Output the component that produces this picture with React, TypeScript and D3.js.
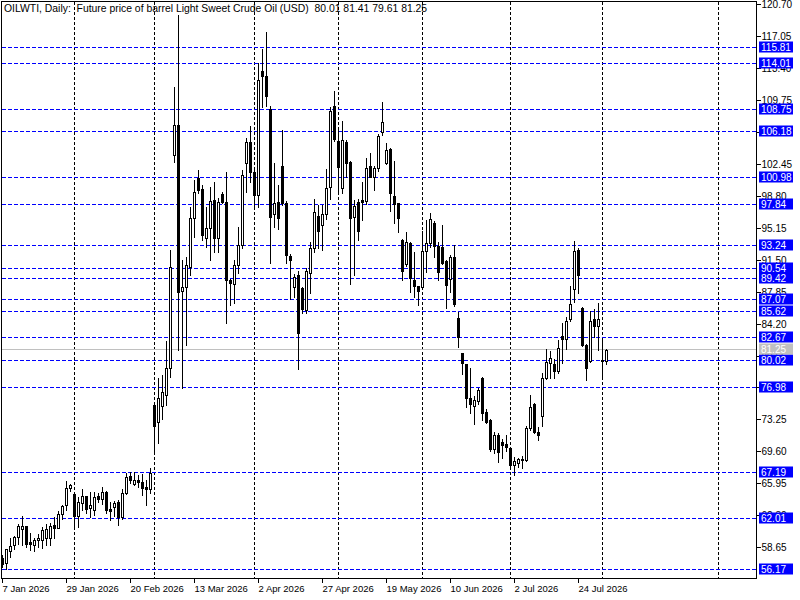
import { useEffect, useRef } from "react";
import * as d3 from "d3";

// daily OHLC, one entry per bar
const opens = [
  57.5, 56.9, 58.3, 58.9, 59.9, 60.8, 61.1, 59.3, 58.9, 59.5,
  59.5, 59.7, 59.7, 61.2, 60.9, 62.5, 63.5, 65.5, 64.8, 62.3,
  63.8, 64.5, 63.2, 62.9, 64.6, 64.2, 65.0, 63.1, 63.3, 63.9,
  62.1, 64.9, 66.8, 65.9, 66.4, 66.1, 65.6, 65.4, 74.9, 73.0,
  74.8, 76.1, 79.2, 103.5, 107.0, 88.0, 88.4, 90.7, 96.3, 100.9,
  99.6, 94.0, 95.2, 98.4, 94.0, 99.1, 98.2, 89.2, 88.8, 91.0,
  93.2, 102.6, 105.0, 101.6, 99.0, 113.1, 112.6, 108.8, 96.8, 98.2,
  102.3, 98.1, 92.0, 88.4, 89.8, 88.3, 85.8, 90.1, 92.9, 96.6,
  95.5, 96.8, 99.9, 109.1, 105.1, 99.8, 105.0, 102.7, 96.4, 98.2,
  98.4, 98.3, 102.3, 101.0, 102.0, 106.2, 102.6, 104.2, 98.9, 98.0,
  93.8, 91.1, 93.5, 89.2, 88.6, 88.5, 92.6, 93.5, 95.8, 93.1,
  93.0, 91.4, 89.4, 91.9, 84.9, 80.9, 79.7, 75.7, 74.8, 75.4,
  78.1, 74.1, 73.2, 69.9, 71.5, 70.7, 70.5, 70.0, 68.1, 68.3,
  68.8, 68.7, 72.3, 75.1, 71.9, 73.7, 78.0, 79.8, 79.6, 78.9,
  82.9, 82.5, 84.8, 88.2, 92.7, 86.1, 81.8, 80.0, 84.8, 84.0,
  80.1, 80.01,
];
const highs = [
  57.8, 58.5, 59.8, 60.0, 61.4, 62.3, 61.1, 60.3, 59.7, 60.2,
  61.0, 61.3, 61.5, 62.1, 62.8, 63.5, 66.3, 65.9, 64.8, 64.4,
  65.3, 64.6, 65.0, 65.0, 64.9, 65.6, 65.1, 63.9, 64.0, 64.1,
  65.4, 67.2, 67.3, 67.3, 66.9, 67.1, 66.4, 67.8, 75.1, 78.0,
  78.4, 82.3, 92.7, 111.3, 119.5, 91.5, 91.9, 97.6, 100.7, 101.8,
  100.1, 97.6, 99.9, 100.5, 98.6, 99.3, 101.6, 89.4, 91.5, 95.3,
  101.8, 105.5, 106.8, 101.8, 114.1, 115.7, 117.6, 109.1, 102.6, 100.1,
  106.4, 98.3, 92.2, 89.9, 90.3, 88.4, 90.6, 93.6, 98.5, 97.8,
  97.8, 101.9, 109.0, 110.9, 106.7, 107.4, 105.3, 102.8, 98.4, 98.5,
  100.4, 103.2, 103.8, 102.3, 105.9, 109.6, 104.9, 104.3, 102.8, 98.0,
  93.9, 94.7, 93.6, 92.5, 88.6, 94.9, 96.1, 96.9, 96.0, 93.6,
  95.5, 91.5, 92.1, 93.2, 85.6, 80.9, 79.7, 79.2, 76.0, 76.9,
  78.2, 74.5, 73.3, 71.9, 71.8, 71.1, 71.5, 70.1, 69.0, 68.9,
  69.1, 72.5, 76.1, 75.2, 72.4, 78.6, 81.4, 81.1, 80.2, 82.4,
  84.3, 85.0, 88.6, 93.7, 92.9, 86.2, 81.9, 85.7, 85.9, 86.6,
  82.4, 81.41,
];
const lows = [
  56.4, 56.17, 57.6, 58.5, 59.1, 59.0, 58.7, 58.4, 58.3, 58.7,
  58.6, 59.0, 58.9, 59.8, 60.9, 61.9, 63.0, 65.1, 61.1, 61.0,
  63.0, 62.6, 62.2, 62.4, 63.9, 63.6, 62.6, 61.8, 62.3, 61.2,
  61.9, 64.8, 66.0, 65.8, 65.6, 64.7, 63.5, 64.9, 69.3, 70.6,
  73.4, 75.0, 78.2, 102.7, 81.2, 76.9, 81.8, 89.8, 94.2, 99.2,
  93.8, 93.0, 91.5, 92.4, 92.4, 98.0, 84.3, 86.4, 86.6, 90.0,
  92.9, 99.3, 100.5, 97.6, 97.6, 109.0, 109.1, 91.2, 95.3, 95.1,
  97.8, 91.2, 87.1, 87.3, 79.1, 85.5, 85.5, 87.8, 92.4, 92.9,
  92.7, 96.2, 98.5, 105.1, 99.3, 99.2, 101.0, 88.8, 89.8, 93.8,
  96.1, 97.9, 101.0, 99.5, 101.7, 105.8, 102.5, 97.1, 95.8, 94.7,
  89.3, 90.9, 87.9, 87.3, 86.4, 88.4, 90.2, 93.0, 91.9, 89.3,
  91.1, 86.0, 87.9, 86.3, 81.6, 78.5, 74.7, 74.0, 72.8, 75.1,
  73.2, 72.9, 69.7, 69.5, 68.4, 68.9, 69.7, 67.7, 66.9, 67.9,
  67.8, 68.6, 72.1, 71.8, 70.9, 72.5, 77.9, 78.0, 78.0, 78.6,
  79.8, 81.4, 84.6, 86.7, 87.8, 81.7, 77.8, 79.9, 82.7, 81.3,
  78.1, 79.61,
];
const closes = [
  56.8, 58.5, 58.8, 59.9, 61.1, 61.1, 59.1, 59.1, 59.5, 59.7,
  60.7, 60.8, 61.1, 60.9, 62.5, 63.4, 65.5, 65.8, 62.3, 63.9,
  64.5, 63.1, 63.5, 64.4, 64.2, 65.0, 62.9, 62.8, 63.7, 62.2,
  64.9, 66.7, 66.4, 66.4, 66.1, 65.5, 65.4, 67.2, 72.5, 75.8,
  76.4, 79.2, 90.7, 107.0, 87.9, 88.4, 91.0, 96.3, 99.3, 99.5,
  94.4, 95.2, 98.3, 94.0, 98.2, 98.2, 89.2, 88.9, 91.0, 93.2,
  101.3, 105.0, 101.6, 99.0, 112.1, 112.6, 110.3, 96.5, 98.0, 96.3,
  98.1, 92.1, 91.5, 89.6, 83.2, 85.9, 90.3, 92.9, 97.0, 94.8,
  96.8, 99.8, 108.6, 105.4, 102.2, 105.3, 102.6, 96.3, 97.7, 94.8,
  98.2, 102.1, 101.0, 102.1, 105.7, 107.3, 104.1, 99.2, 97.9, 96.3,
  90.3, 93.6, 89.5, 88.6, 88.0, 92.6, 93.5, 96.2, 93.1, 90.2,
  91.2, 88.7, 91.9, 86.5, 82.7, 79.8, 75.8, 75.1, 75.5, 76.7,
  74.0, 73.0, 69.9, 71.5, 69.6, 70.4, 70.2, 68.1, 68.6, 68.8,
  68.7, 72.3, 74.7, 71.9, 71.5, 78.1, 79.9, 80.3, 78.9, 81.5,
  82.5, 84.6, 86.5, 92.6, 89.8, 81.8, 79.2, 84.6, 84.0, 84.8,
  80.0, 81.25,
];

// horizontal level lines (blue, labelled on the price axis)
const levels = [
  115.81, 114.01, 108.75, 106.18, 100.98, 97.84, 93.24, 90.54, 89.42,
  87.07, 85.62, 82.67, 80.02, 76.98, 67.19, 62.01, 56.17,
];
const priceTicks = [
  120.7, 117.05, 113.4, 109.75, 106.1, 102.45, 98.8, 95.15, 91.5, 87.85,
  84.2, 80.55, 76.9, 73.25, 69.6, 65.95, 62.3, 58.65,
];
const dateLabels = [
  "7 Jan 2026", "29 Jan 2026", "20 Feb 2026", "13 Mar 2026", "2 Apr 2026",
  "27 Apr 2026", "19 May 2026", "10 Jun 2026", "2 Jul 2026", "24 Jul 2026",
];
const dateLabelStep = 16; // a date label every 16 bars
const gridBars = [18, 38, 63, 84, 105, 127, 150, 179]; // vertical separators
const lastPrice = 81.25;
const title =
  "OILWTI, Daily:  Future price of barrel Light Sweet Crude Oil (USD)  80.01 81.41 79.61 81.25";

const WIDTH = 800;
const HEIGHT = 600;
const FONT = "'Liberation Sans', Arial, sans-serif";

export default function App() {
  const ref = useRef<SVGSVGElement | null>(null);

  useEffect(() => {
    document.body.style.margin = "0";
    if (!ref.current) return;
    const svg = d3.select(ref.current);
    svg.selectAll("*").remove();

    const plot = { left: 1.5, right: 756.5, top: 1.5, bottom: 578.5 };

    // 4px per bar
    const x = d3.scaleLinear().domain([0, 188]).range([2.5, 754.5]);
    const y = d3.scaleLinear().domain([56.17, 115.81]).range([569.3, 47.7]);
    const py = (v: number) => Math.floor(y(v)) + 0.5;

    svg.append("rect").attr("width", WIDTH).attr("height", HEIGHT).attr("fill", "#fff");

    // vertical grid
    svg
      .append("g")
      .attr("shape-rendering", "crispEdges")
      .selectAll("line")
      .data(gridBars)
      .join("line")
      .attr("x1", (d) => x(d))
      .attr("x2", (d) => x(d))
      .attr("y1", plot.top)
      .attr("y2", plot.bottom)
      .attr("stroke", "#000")
      .attr("stroke-dasharray", "3,2");

    // level lines
    svg
      .append("g")
      .attr("shape-rendering", "crispEdges")
      .selectAll("line")
      .data(levels)
      .join("line")
      .attr("x1", plot.left)
      .attr("x2", plot.right)
      .attr("y1", (d) => py(d))
      .attr("y2", (d) => py(d))
      .attr("stroke", "#0000ff")
      .attr("stroke-dasharray", "4,2");

    // last price line
    svg
      .append("line")
      .attr("shape-rendering", "crispEdges")
      .attr("x1", plot.left)
      .attr("x2", plot.right)
      .attr("y1", py(lastPrice))
      .attr("y2", py(lastPrice))
      .attr("stroke", "#c0c0c0");

    // candles
    const bars = d3.range(opens.length);
    const g = svg.append("g").attr("shape-rendering", "crispEdges");
    g.selectAll("line.wick")
      .data(bars)
      .join("line")
      .attr("class", "wick")
      .attr("x1", (i) => x(i))
      .attr("x2", (i) => x(i))
      .attr("y1", (i) => Math.round(y(highs[i])))
      .attr("y2", (i) => Math.round(y(lows[i])) + 1)
      .attr("stroke", "#000");

    g.selectAll("rect.body")
      .data(bars)
      .join("rect")
      .attr("class", "body")
      .each(function (i) {
        const top = Math.round(y(Math.max(opens[i], closes[i])));
        let bot = Math.round(y(Math.min(opens[i], closes[i])));
        if (bot - top < 1) bot = top + 1;
        const el = d3.select(this);
        if (closes[i] >= opens[i]) {
          el.attr("x", x(i) - 1)
            .attr("y", top + 0.5)
            .attr("width", 2)
            .attr("height", bot - top)
            .attr("fill", "#fff")
            .attr("stroke", "#000");
        } else {
          el.attr("x", x(i) - 1.5)
            .attr("y", top)
            .attr("width", 3)
            .attr("height", bot - top + 1)
            .attr("fill", "#000");
        }
      });

    // frame
    svg
      .append("path")
      .attr("shape-rendering", "crispEdges")
      .attr(
        "d",
        `M${plot.left},${plot.top}H${plot.right}V${plot.bottom}H${plot.left}Z`
      )
      .attr("fill", "none")
      .attr("stroke", "#000");

    // price axis ticks
    const ax = svg.append("g").attr("font-family", FONT).attr("font-size", 10);
    priceTicks.forEach((t) => {
      ax.append("line")
        .attr("shape-rendering", "crispEdges")
        .attr("x1", plot.right)
        .attr("x2", plot.right + 4)
        .attr("y1", py(t))
        .attr("y2", py(t))
        .attr("stroke", "#000");
      ax.append("text")
        .attr("x", plot.right + 5)
        .attr("y", py(t))
        .attr("dy", "0.35em")
        .attr("fill", "#000")
        .text(t.toFixed(2));
    });

    // level labels
    levels.forEach((v) => {
      ax.append("rect")
        .attr("x", 759)
        .attr("y", py(v) - 6)
        .attr("width", 34)
        .attr("height", 11)
        .attr("fill", "#0000ff");
      ax.append("text")
        .attr("x", 761)
        .attr("y", py(v))
        .attr("dy", "0.35em")
        .attr("fill", "#fff")
        .text(v.toFixed(2));
    });
    ax.append("rect")
      .attr("x", 759)
      .attr("y", py(lastPrice) - 6)
      .attr("width", 34)
      .attr("height", 11)
      .attr("fill", "#c0c0c0");
    ax.append("text")
      .attr("x", 761)
      .attr("y", py(lastPrice))
      .attr("dy", "0.35em")
      .attr("fill", "#fff")
      .text(lastPrice.toFixed(2));

    // time axis
    dateLabels.forEach((lab, k) => {
      const xx = Math.floor(x(k * dateLabelStep)) + 0.5;
      ax.append("line")
        .attr("shape-rendering", "crispEdges")
        .attr("x1", xx)
        .attr("x2", xx)
        .attr("y1", plot.bottom)
        .attr("y2", plot.bottom + 4)
        .attr("stroke", "#000");
      ax.append("text")
        .attr("x", xx)
        .attr("y", 592)
        .attr("font-size", 9.5)
        .attr("fill", "#000")
        .text(lab);
    });

    // title
    svg
      .append("text")
      .attr("x", 4)
      .attr("y", 12)
      .attr("font-family", FONT)
      .attr("font-size", 10.4)
      .attr("fill", "#000")
      .attr("xml:space", "preserve")
      .style("white-space", "pre")
      .text(title);
  }, []);

  return (
    <svg
      ref={ref}
      width={WIDTH}
      height={HEIGHT}
      style={{ display: "block" }}
      role="img"
      aria-label="OILWTI daily candlestick chart"
    />
  );
}
